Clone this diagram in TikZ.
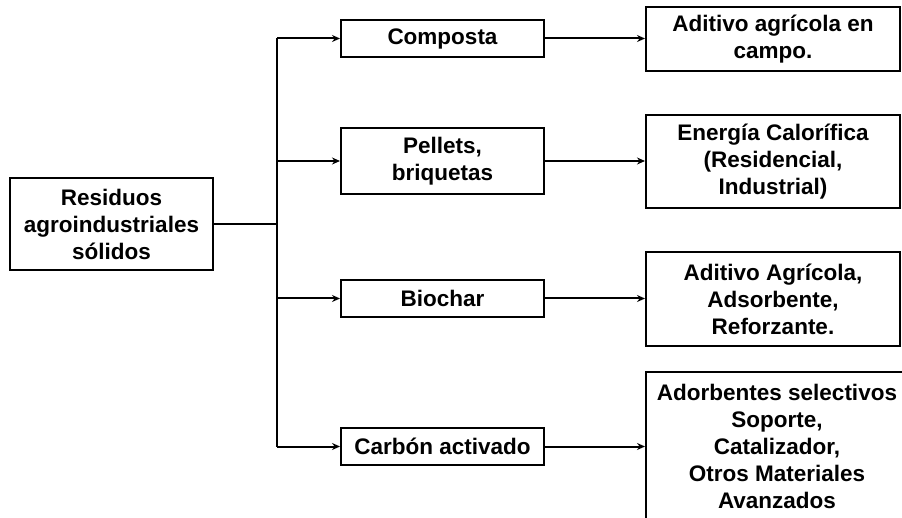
\documentclass[tikz,border=0pt]{standalone}
\usepackage{fontspec}
\setmainfont{Liberation Sans}
\usetikzlibrary{arrows.meta, positioning}

\begin{document}
\begin{tikzpicture}[
    x=1pt, y=-1pt,
    font=\bfseries\fontsize{22.5}{27}\selectfont,
    box/.style={draw, line width=2pt, align=center, inner sep=2pt},
    midbox/.style={box, minimum width=203pt, minimum height=37pt},
    outbox/.style={box, minimum width=254pt},
    link/.style={line width=2pt},
    arrow/.style={-{Stealth[length=8pt, width=7pt]}, line width=2pt}
]
    \clip (0,0) rectangle (902,518);

    \node[box, minimum width=203pt, minimum height=92pt] (src) at (111.5,224) {Residuos\\agroindustriales\\sólidos};

    \node[midbox] (comp) at (442.5,38.5) {Composta};
    \node[midbox, minimum height=66pt] (pell) at (442.5,161) {Pellets,\\briquetas};
    \node[midbox] (bioc) at (442.5,298.5) {Biochar};
    \node[midbox] (carb) at (442.5,446.5) {Carbón activado};

    \node[outbox, minimum height=64pt] (adit) at (773,39) {Aditivo agrícola en\\campo.};
    \node[outbox, minimum height=93pt] (ener) at (773,161.5) {Energía Calorífica\\(Residencial,\\Industrial)};
    \node[outbox, minimum height=94pt] (adsb) at (773,299) {Aditivo Agrícola,\\Adsorbente,\\Reforzante.};
    \node[outbox, minimum width=262pt, minimum height=148pt] (mats) at (777,446) {Adorbentes selectivos\\Soporte,\\Catalizador,\\Otros Materiales\\Avanzados};

    \coordinate (trunk) at (277,224);
    \draw[link] (src.east) -- (trunk);
    \draw[link] (trunk |- comp) -- (trunk |- carb);
    \foreach \n in {comp, pell, bioc, carb}
        \draw[arrow] (trunk |- \n) -- (\n.west);
    \foreach \a/\b in {comp/adit, pell/ener, bioc/adsb, carb/mats}
        \draw[arrow] (\a.east) -- (\a.east -| \b.west);
\end{tikzpicture}
\end{document}
